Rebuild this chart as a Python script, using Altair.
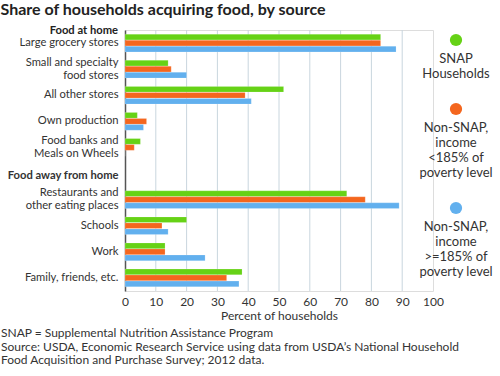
import altair as alt
import pandas as pd

FONT = "Lato"

categories = [
    "Large grocery stores",
    "Small and specialty|food stores",
    "All other stores",
    "Own production",
    "Food banks and|Meals on Wheels",
    "Food away from home",
    "Restaurants and|other eating places",
    "Schools",
    "Work",
    "Family, friends, etc.",
]
series = [
    "SNAP|Households",
    "Non-SNAP,|income|<185% of|poverty level",
    "Non-SNAP,|income|>=185% of|poverty level",
]
colors = ["#66D216", "#F4661E", "#62B0EE"]

snap = [83, 14, 51.5, 4, 5, None, 72, 20, 13, 38]
low_income = [83, 15, 39, 7, 3, None, 78, 12, 13, 33]
high_income = [88, 20, 41, 6, 0, None, 89, 14, 26, 37]

grid_values = [10, 20, 30, 40, 50, 60, 70, 80, 90]
tick_values = [0, 10, 20, 30, 40, 50, 60, 70, 80, 90, 100]

rows = []
for s, vals in zip(series, [snap, low_income, high_income]):
    for c, v in zip(categories, vals):
        if v is not None:
            rows.append({"category": c, "series": s, "value": v})
df = pd.DataFrame(rows)

W, H = 308, 261
LABEL_SIZE = 11.2

x_axis = alt.Axis(
    values=tick_values,
    title="Percent of households",
    titleFont=FONT,
    titleFontSize=12,
    titleFontWeight="normal",
    titleColor="#333333",
    titlePadding=3,
    labelFont=FONT,
    labelFontSize=12,
    labelColor="#333333",
    labelPadding=5,
    labelFlush=False,
    labelOverlap=False,
    ticks=False,
    domain=False,
    grid=False,
)

y_enc = alt.Y(
    "category:N",
    sort=categories,
    scale=alt.Scale(domain=categories, paddingInner=0.32, paddingOuter=0.16),
    axis=alt.Axis(
        title=None,
        ticks=False,
        labelExpr="split(datum.label, '|')",
        labelFont=FONT,
        labelFontSize=LABEL_SIZE,
        labelColor="#333333",
        labelPadding=7,
        labelLineHeight=13,
        labelFontWeight={
            "condition": {"test": "datum.value == 'Food away from home'", "value": "bold"},
            "value": "normal",
        },
        labelOffset={
            "condition": [
                {"test": "datum.value == 'Food away from home'", "value": 2},
                {"test": "indexof(datum.value, '|') >= 0", "value": -6.5},
            ],
            "value": 0,
        },
        domainColor="#555555",
        domainWidth=1.5,
        grid=False,
    ),
)

grid = alt.Chart(pd.DataFrame({"g": grid_values})).mark_rule(
    color="#c9d6de", strokeWidth=1
).encode(x=alt.X("g:Q", scale=alt.Scale(domain=[0, 100]), axis=x_axis))

bars = alt.Chart(df).mark_bar(stroke="white", strokeWidth=0.3, strokeOpacity=0.6).encode(
    x=alt.X("value:Q", scale=alt.Scale(domain=[0, 100]), axis=x_axis),
    y=y_enc,
    yOffset=alt.YOffset("series:N", sort=series, scale=alt.Scale(domain=series, paddingInner=0.05)),
    color=alt.Color("series:N", sort=series, scale=alt.Scale(domain=series, range=colors), legend=None),
)

header = alt.Chart(pd.DataFrame({"category": ["Large grocery stores"], "label": ["Food at home"]})).mark_text(
    align="right", baseline="middle", font=FONT, fontSize=LABEL_SIZE, fontWeight="bold", color="#222222", dy=-12
).encode(x=alt.value(-7), y=alt.Y("category:N", sort=categories, scale=alt.Scale(domain=categories)), text="label:N")

# Legend: circle above centred multi-line label, laid out top-down
leg_layers = []
ypos = 10
for s, col in zip(series, colors):
    n_lines = len(s.split("|"))
    sd = pd.DataFrame({"series": [s], "label": [s.replace("|", "\n")]})
    leg_layers.append(
        alt.Chart(sd).mark_circle(size=150, opacity=1, color=col).encode(
            x=alt.value(331), y=alt.value(ypos)
        )
    )
    leg_layers.append(
        alt.Chart(sd).mark_text(
            align="center", baseline="middle", lineBreak="\n", lineHeight=15,
            font=FONT, fontSize=13, color="#333333"
        ).encode(x=alt.value(331), y=alt.value(ypos + 19), text="label:N")
    )
    ypos = ypos + 19 + 15 * (n_lines - 1) + 35

inner = alt.layer(grid, bars, header, *leg_layers).properties(
    width=W,
    height=H,
    title=alt.TitleParams(
        text=[
            "SNAP = Supplemental Nutrition Assistance Program",
            "Source: USDA, Economic Research Service using data from USDA\u2019s National Household",
            "Food Acquisition and Purchase Survey; 2012 data.",
        ],
        orient="bottom",
        anchor="start",
        font=FONT,
        fontSize=12,
        fontWeight="normal",
        color="#333333",
        lineHeight=13.6,
        offset=7,
        dx=-6,
    ),
).resolve_scale(y="shared")

chart = alt.vconcat(inner).properties(
    title=alt.TitleParams(
        text="Share of households acquiring food, by source",
        anchor="start",
        font=FONT,
        fontSize=16,
        fontWeight="bold",
        color="#222222",
        offset=7,
    ),
    padding={"left": 0, "top": 1, "right": 0, "bottom": 0},
).configure_view(stroke=None).configure(background="white")

chart.save("out.html", embed_options={"renderer": "svg", "actions": False})
